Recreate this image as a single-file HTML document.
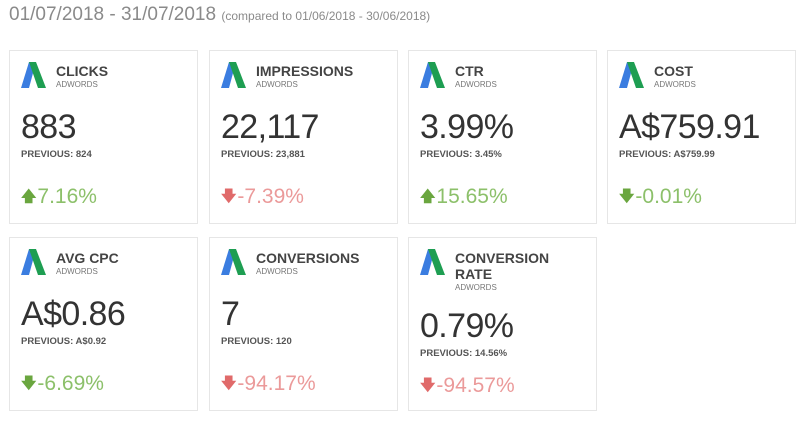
<!DOCTYPE html>
<html><head><style>
body{margin:0;width:804px;height:424px;background:#fff;font-family:"Liberation Sans",sans-serif;position:relative;overflow:hidden}
.hd{position:absolute;left:9px;top:4px;font-size:19px;color:#8a8a8a;white-space:nowrap}
.hd small{font-size:12px}
.c{position:absolute;width:189px;height:174px;border:1px solid #e6e6e6;box-sizing:border-box}
.c svg{position:absolute;left:11px;top:11px}
.t{position:absolute;left:46px;top:12px;font-size:14px;font-weight:bold;color:#444;line-height:16px}
.s{position:absolute;left:46px;top:29px;font-size:8px;color:#777}
.v{position:absolute;left:11px;top:57px;font-size:34px;color:#333;letter-spacing:-0.6px}
.p{position:absolute;left:11px;top:98px;font-size:9.5px;font-weight:bold;color:#555}
.d{position:absolute;left:11px;top:134px;font-size:21px}
.d b{font-size:15px;display:inline-block;vertical-align:2px;margin-right:1px}
.up{color:#8cc06a}.dn{color:#eb9a9a}.g{color:#8cc06a}
.up b,.g b{color:#6aa63f}.dn b{color:#e06a6a}
.c2 .s{top:45px}.c2 .v{top:69px}.c2 .p{top:110px}.c2 .d{top:136px}
</style></head><body>
<div class="hd">01/07/2018 - 31/07/2018 <small>(compared to 01/06/2018 - 30/06/2018)</small></div>

<svg width="0" height="0" style="position:absolute"><defs>
<g id="lg"><polygon points="8,0 15,0 8,26 0,26" fill="#3b7de0"/><polygon points="8,0 15,0 25,26 17,26" fill="#1e9e52"/></g></defs></svg>

<div class="c" style="left:9px;top:50px"><svg width="26" height="26"><use href="#lg"/></svg><div class="t">CLICKS</div><div class="s">ADWORDS</div><div class="v">883</div><div class="p">PREVIOUS: 824</div><div class="d up"><b>🡅</b>7.16%</div></div>
<div class="c" style="left:209px;top:50px"><svg width="26" height="26"><use href="#lg"/></svg><div class="t">IMPRESSIONS</div><div class="s">ADWORDS</div><div class="v">22,117</div><div class="p">PREVIOUS: 23,881</div><div class="d dn"><b>🡇</b>-7.39%</div></div>
<div class="c" style="left:408px;top:50px"><svg width="26" height="26"><use href="#lg"/></svg><div class="t">CTR</div><div class="s">ADWORDS</div><div class="v">3.99%</div><div class="p">PREVIOUS: 3.45%</div><div class="d up"><b>🡅</b>15.65%</div></div>
<div class="c" style="left:607px;top:50px"><svg width="26" height="26"><use href="#lg"/></svg><div class="t">COST</div><div class="s">ADWORDS</div><div class="v">A$759.91</div><div class="p">PREVIOUS: A$759.99</div><div class="d g"><b>🡇</b>-0.01%</div></div>

<div class="c" style="left:9px;top:237px"><svg width="26" height="26"><use href="#lg"/></svg><div class="t">AVG CPC</div><div class="s">ADWORDS</div><div class="v">A$0.86</div><div class="p">PREVIOUS: A$0.92</div><div class="d g"><b>🡇</b>-6.69%</div></div>
<div class="c" style="left:209px;top:237px"><svg width="26" height="26"><use href="#lg"/></svg><div class="t">CONVERSIONS</div><div class="s">ADWORDS</div><div class="v">7</div><div class="p">PREVIOUS: 120</div><div class="d dn"><b>🡇</b>-94.17%</div></div>
<div class="c c2" style="left:408px;top:237px"><svg width="26" height="26"><use href="#lg"/></svg><div class="t">CONVERSION<br>RATE</div><div class="s">ADWORDS</div><div class="v">0.79%</div><div class="p">PREVIOUS: 14.56%</div><div class="d dn"><b>🡇</b>-94.57%</div></div>
</body></html>
